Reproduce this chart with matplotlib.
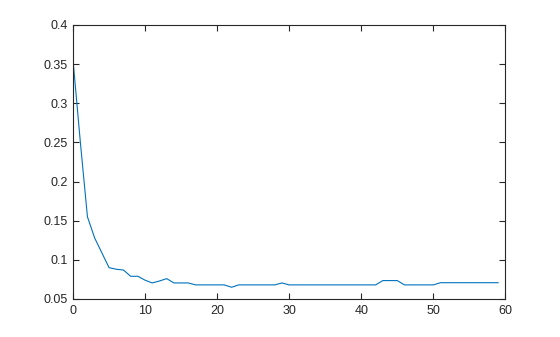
import matplotlib
matplotlib.use("Agg")
import matplotlib.pyplot as plt
import numpy as np

# Nilai kurva, satu nilai per iterasi 0..59
iterasi = np.arange(60)
nilai = [
    0.355, 0.252, 0.155, 0.128, 0.109, 0.090, 0.088, 0.087, 0.079, 0.079,
    0.074, 0.0705, 0.073, 0.076, 0.0705, 0.0705, 0.0705, 0.068, 0.068, 0.068,
    0.068, 0.068, 0.065, 0.068, 0.068, 0.068, 0.068, 0.068, 0.068, 0.0705,
    0.068, 0.068, 0.068, 0.068, 0.068, 0.068, 0.068, 0.068, 0.068, 0.068,
    0.068, 0.068, 0.068, 0.0735, 0.0735, 0.0735, 0.068, 0.068, 0.068, 0.068,
    0.068, 0.0708, 0.0708, 0.0708, 0.0708, 0.0708, 0.0708, 0.0708, 0.0708, 0.0708,
]
x_ticks = [0, 10, 20, 30, 40, 50, 60]
y_ticks = [0.05, 0.1, 0.15, 0.2, 0.25, 0.3, 0.35, 0.4]
y_labels = ["0.05", "0.1", "0.15", "0.2", "0.25", "0.3", "0.35", "0.4"]

plt.rcParams["font.family"] = ["Liberation Sans", "DejaVu Sans"]
plt.rcParams["font.size"] = 9

fig = plt.figure(figsize=(5.6, 3.37), dpi=100)
ax = fig.add_axes([0.1304, 0.1128, 0.772, 0.8131])

ax.plot(iterasi, nilai, color="#0072BD", linewidth=0.8)

ax.set_xlim(0, 60)
ax.set_ylim(0.05, 0.4)
ax.set_xticks(x_ticks)
ax.set_yticks(y_ticks)
ax.set_yticklabels(y_labels)

axis_color = "#262626"
for s in ax.spines.values():
    s.set_color(axis_color)
    s.set_linewidth(0.8)
ax.tick_params(direction="in", length=4.5, width=0.8, colors=axis_color,
               top=True, right=True, labelsize=9, pad=4)

fig.savefig("out.png", dpi=100)
